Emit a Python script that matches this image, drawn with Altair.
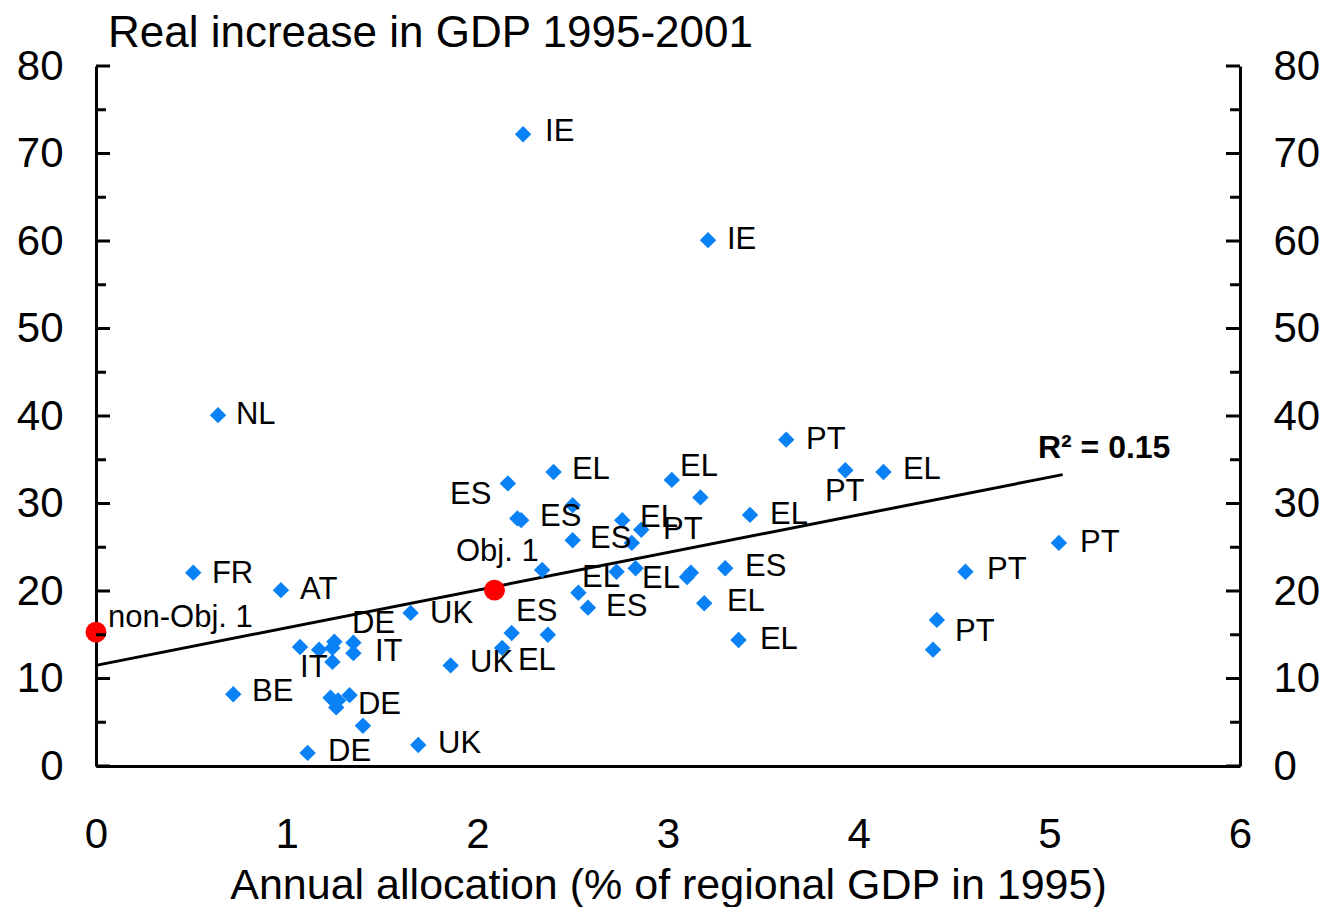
import altair as alt
import pandas as pd

# ---- data ----
blue_x = [0.64, 0.51, 0.97, 0.72, 2.24, 3.21,
          1.07, 1.17, 1.25, 1.35, 1.35, 1.24, 1.24,
          1.23, 1.27, 1.33, 1.26, 1.40, 1.11, 1.69, 1.86, 1.65,
          2.40, 2.16, 3.02, 2.21, 2.23, 2.50, 2.50, 2.76, 2.86, 2.81,
          2.34, 2.73, 2.83, 3.10, 3.12, 2.53, 2.58, 2.18, 2.37, 2.13,
          3.62, 3.93, 4.13, 3.17, 3.43, 3.30, 3.19, 3.37,
          4.41, 4.39, 5.05, 4.56]
blue_y = [40.1, 22.1, 20.1, 8.2, 72.2, 60.1,
          13.6, 13.3, 14.2, 14.1, 12.9, 11.9, 13.5,
          7.8, 7.5, 8.1, 6.7, 4.6, 1.5, 2.4, 11.5, 17.5,
          33.6, 32.3, 32.7, 28.3, 28.1, 29.8, 25.8, 28.1, 27.0, 25.5,
          22.4, 22.2, 22.6, 21.6, 22.1, 19.8, 18.1, 15.2, 15.0, 13.5,
          37.3, 33.8, 33.6, 30.7, 28.7, 22.6, 18.6, 14.4,
          16.7, 13.3, 25.5, 22.2]

red_x = [0.0, 2.09]
red_y = [15.3, 20.1]

fit_x = [0.0, 5.07]
fit_y = [11.5, 33.3]

label_text = ["non-Obj. 1", "Obj. 1", "NL", "FR", "AT", "BE", "DE", "IT", "IT", "DE", "DE",
              "UK", "UK", "UK", "EL", "ES", "ES", "EL", "EL", "ES", "ES", "ES", "EL", "EL",
              "PT", "EL", "EL", "ES", "EL", "EL", "PT", "PT", "EL", "PT", "PT", "PT", "IE", "IE"]
label_x = [0.063, 1.888, 0.734, 0.608, 1.070, 0.818, 1.343, 1.463, 1.070, 1.374, 1.217,
           1.752, 1.794, 1.962, 2.213, 2.203, 2.675, 2.549, 2.864, 2.591, 2.329, 1.857, 2.496, 2.853,
           2.974, 3.063, 3.535, 3.404, 3.309, 3.482, 3.724, 3.823, 4.232, 4.505, 4.673, 5.161, 2.355, 3.309]
label_y = [16.9, 24.5, 40.1, 21.9, 20.1, 8.5, 16.2, 13.0, 11.2, 7.0, 1.6,
           17.4, 2.5, 11.8, 12.0, 17.6, 18.2, 21.5, 21.4, 25.9, 28.5, 31.0, 33.8, 28.3,
           27.0, 34.2, 28.7, 22.7, 18.7, 14.4, 37.3, 31.3, 33.8, 15.3, 22.4, 25.5, 72.5, 60.1]

r2_text = ["R\u00b2 = 0.15"]
r2_x = [4.94]
r2_y = [36.3]

y_ticks = [0, 10, 20, 30, 40, 50, 60, 70, 80]
y_minor = [5, 15, 25, 35, 45, 55, 65, 75]
x_ticks = [0, 1, 2, 3, 4, 5, 6]

# ---- chart ----
W, H = 1144, 700
FONT = "Liberation Sans"
BLUE = "#0a82f5"

xs = alt.Scale(domain=[0, 6], nice=False, zero=False)
ys = alt.Scale(domain=[0, 80], nice=False, zero=False)

x_axis = alt.Axis(title="Annual allocation (% of regional GDP in 1995)", values=x_ticks, format="d",
                  grid=False, ticks=False, domainColor="black", domainWidth=3, labelFlush=False,
                  labelFont=FONT, labelFontSize=42, labelColor="black", labelPadding=48,
                  titleFont=FONT, titleFontSize=43, titleFontWeight="normal", titleColor="black",
                  titlePadding=9)
y_left = alt.Axis(orient="left", title=None, values=y_ticks, format="d", grid=False, ticks=False,
                  domainColor="black", domainWidth=3, labelFont=FONT, labelFontSize=42,
                  labelColor="black", labelPadding=33, labelFlush=False)
y_right = alt.Axis(orient="right", title=None, values=y_ticks, format="d", grid=False, ticks=False,
                   domainColor="black", domainWidth=3, labelFont=FONT, labelFontSize=42,
                   labelColor="black", labelPadding=33, labelAlign="left", labelFlush=False)

blue_df = pd.DataFrame({"x": blue_x, "y": blue_y})
red_df = pd.DataFrame({"x": red_x, "y": red_y})
fit_df = pd.DataFrame({"x": fit_x, "y": fit_y})
lab_df = pd.DataFrame({"t": label_text, "x": label_x, "y": label_y})
r2_df = pd.DataFrame({"t": r2_text, "x": r2_x, "y": r2_y})
maj_df = pd.DataFrame({"v": y_ticks})
min_df = pd.DataFrame({"v": y_minor})

blue = alt.Chart(blue_df).mark_point(shape="diamond", filled=True, size=270, color=BLUE, opacity=1).encode(
    x=alt.X("x:Q", scale=xs, axis=x_axis),
    y=alt.Y("y:Q", scale=ys, axis=y_left),
)

fit = alt.Chart(fit_df).mark_line(color="black", strokeWidth=3).encode(
    x=alt.X("x:Q", scale=xs, axis=x_axis),
    y=alt.Y("y:Q", scale=ys, axis=None),
)

red = alt.Chart(red_df).mark_point(shape="circle", filled=True, size=440, color="#ff0000", opacity=1).encode(
    x=alt.X("x:Q", scale=xs, axis=x_axis),
    y=alt.Y("y:Q", scale=ys, axis=None),
)

labels = alt.Chart(lab_df).mark_text(align="left", baseline="middle", font=FONT, fontSize=31,
                                     color="black").encode(
    x=alt.X("x:Q", scale=xs, axis=x_axis),
    y=alt.Y("y:Q", scale=ys, axis=None),
    text="t:N",
)

r2 = alt.Chart(r2_df).mark_text(align="left", baseline="middle", font=FONT, fontSize=32,
                                fontWeight="bold", color="black").encode(
    x=alt.X("x:Q", scale=xs, axis=x_axis),
    y=alt.Y("y:Q", scale=ys, axis=None),
    text="t:N",
)

left_major = alt.Chart(maj_df).mark_rule(color="black", strokeWidth=3).encode(
    x=alt.value(0), x2=alt.value(14), y=alt.Y("v:Q", scale=ys, axis=None))
left_minor = alt.Chart(min_df).mark_rule(color="black", strokeWidth=3).encode(
    x=alt.value(0), x2=alt.value(10), y=alt.Y("v:Q", scale=ys, axis=None))
right_major = alt.Chart(maj_df).mark_rule(color="black", strokeWidth=3).encode(
    x=alt.value(W - 14), x2=alt.value(W), y=alt.Y("v:Q", scale=ys, axis=y_right))
right_minor = alt.Chart(min_df).mark_rule(color="black", strokeWidth=3).encode(
    x=alt.value(W - 10), x2=alt.value(W), y=alt.Y("v:Q", scale=ys, axis=None))

chart = alt.layer(
    fit, blue, red, labels, r2, left_major, left_minor, right_major, right_minor
).resolve_axis(y="independent").properties(
    width=W, height=H,
    background="white",
    title=alt.Title("Real increase in GDP 1995-2001", anchor="start", frame="group", font=FONT,
                    fontSize=44, fontWeight="normal", color="black", dx=12, dy=13, offset=2),
    autosize=alt.AutoSizeParams(type="none"),
    padding={"left": 88, "top": 58, "right": 81, "bottom": 141},
).configure_view(strokeWidth=0, stroke=None)

chart.save("out.html", embed_options={"renderer": "svg", "actions": False})
